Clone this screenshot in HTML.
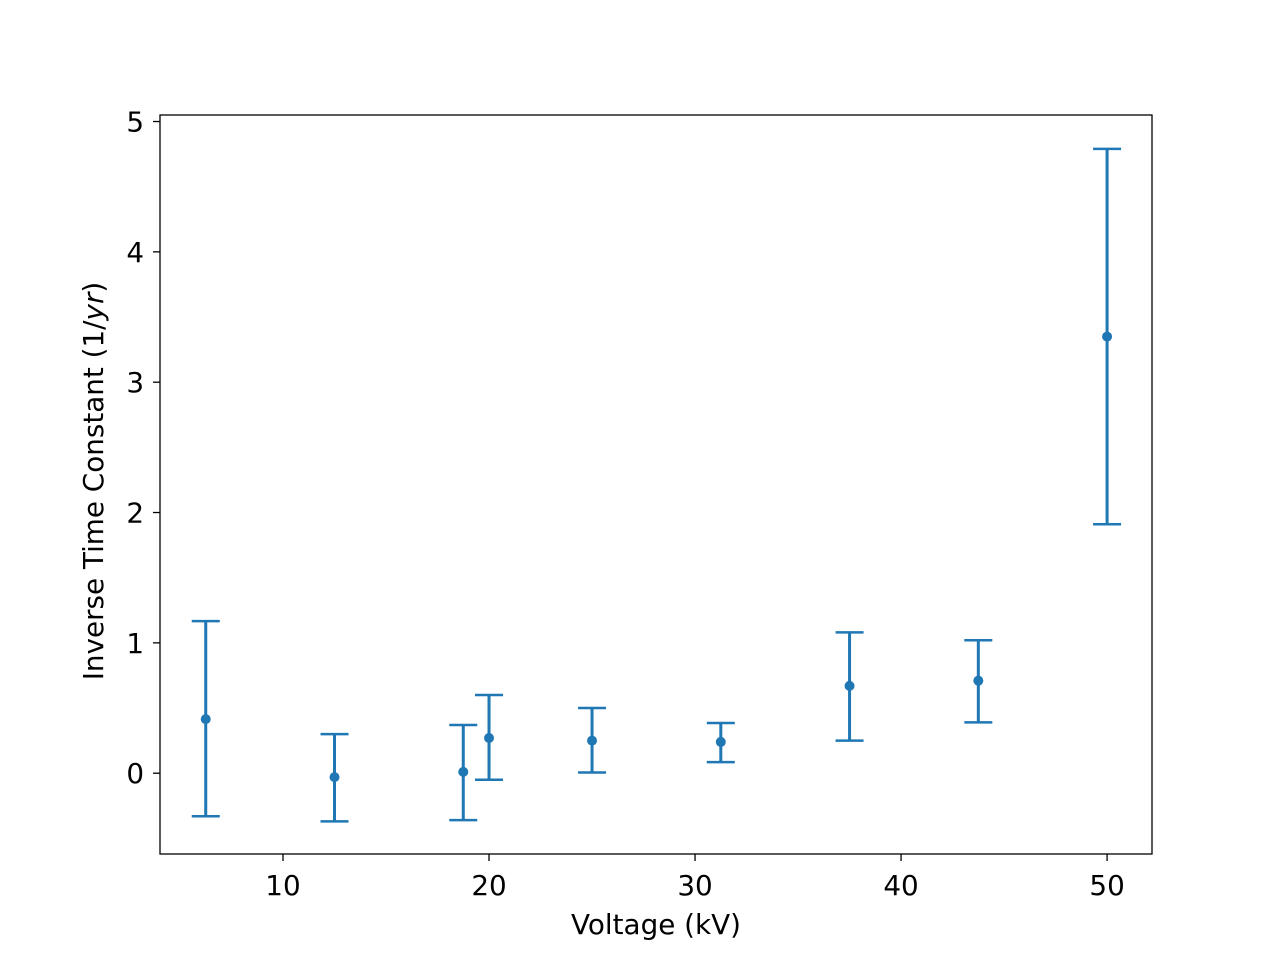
<!DOCTYPE html>
<html><head><meta charset="utf-8"><style>
body{margin:0;background:#fff;}
text{font-family:"DejaVu Sans","Liberation Sans",sans-serif;}
</style></head><body>
<svg id="chart" width="1280" height="960" xmlns="http://www.w3.org/2000/svg">
<rect width="1280" height="960" fill="#fff"/>
<g id="ticks"></g>
<g id="marks"></g>
<rect x="160" y="115" width="992" height="739" fill="none" stroke="#000" stroke-width="1.3"/>
<text x="656" y="934" font-size="27.8" text-anchor="middle">Voltage (kV)</text>
<text transform="translate(103,481) rotate(-90)" font-size="27.8" text-anchor="middle">Inverse Time Constant (1/<tspan font-style="italic">yr</tspan>)</text>
</svg>
<script>
const voltages = [6.25, 12.5, 18.75, 20, 25, 31.25, 37.5, 43.75, 50];
const values = [0.415, -0.03, 0.01, 0.27, 0.25, 0.24, 0.67, 0.71, 3.35];
const errLow = [0.745, 0.34, 0.37, 0.32, 0.245, 0.155, 0.42, 0.32, 1.44];
const errHigh = [0.752, 0.33, 0.36, 0.33, 0.25, 0.145, 0.41, 0.31, 1.44];
const xTicks = [10, 20, 30, 40, 50];
const yTicks = [0, 1, 2, 3, 4, 5];

const X0=160,X1=1152,Y0=854,Y1=115;
const xMin=4.03,xMax=52.18,yMin=-0.62,yMax=5.05;
const xs=v=>X0+(v-xMin)/(xMax-xMin)*(X1-X0);
const ys=v=>Y0-(v-yMin)/(yMax-yMin)*(Y0-Y1);
const NS="http://www.w3.org/2000/svg";
function mk(tag,attrs,parent){const e=document.createElementNS(NS,tag);for(const k in attrs)e.setAttribute(k,attrs[k]);parent.appendChild(e);return e;}
const tg=document.getElementById('ticks'),mg=document.getElementById('marks');
xTicks.forEach(t=>{
  const x=xs(t);
  const l=mk('line',{x1:x,x2:x,y1:Y0,y2:Y0+7,stroke:'#000','stroke-width':1.3},tg);
  
  
  const tx=mk('text',{x:x,y:Y0+41,'font-size':27.8,'text-anchor':'middle'},tg);
  tx.textContent=t;
  
  
});
yTicks.forEach(t=>{
  const y=ys(t);
  const l=mk('line',{x1:X0-7,x2:X0,y1:y,y2:y,stroke:'#000','stroke-width':1.3},tg);
  
  
  const tx=mk('text',{x:X0-16,y:y+10,'font-size':27.8,'text-anchor':'end'},tg);
  tx.textContent=t;
  
  
});
const c='#1f77b4';
voltages.forEach((v,i)=>{
  const x=xs(v),yt=ys(values[i]+errHigh[i]),yb=ys(values[i]-errLow[i]),y=ys(values[i]);
  const g=mk('g',{},mg);
  
  
  mk('line',{x1:x,x2:x,y1:yt,y2:yb,stroke:c,'stroke-width':3},g);
  mk('line',{x1:x-14,x2:x+14,y1:yt,y2:yt,stroke:c,'stroke-width':2.5},g);
  mk('line',{x1:x-14,x2:x+14,y1:yb,y2:yb,stroke:c,'stroke-width':2.5},g);
  mk('circle',{cx:x,cy:y,r:5,fill:c},g);
});
</script>
</body></html>
